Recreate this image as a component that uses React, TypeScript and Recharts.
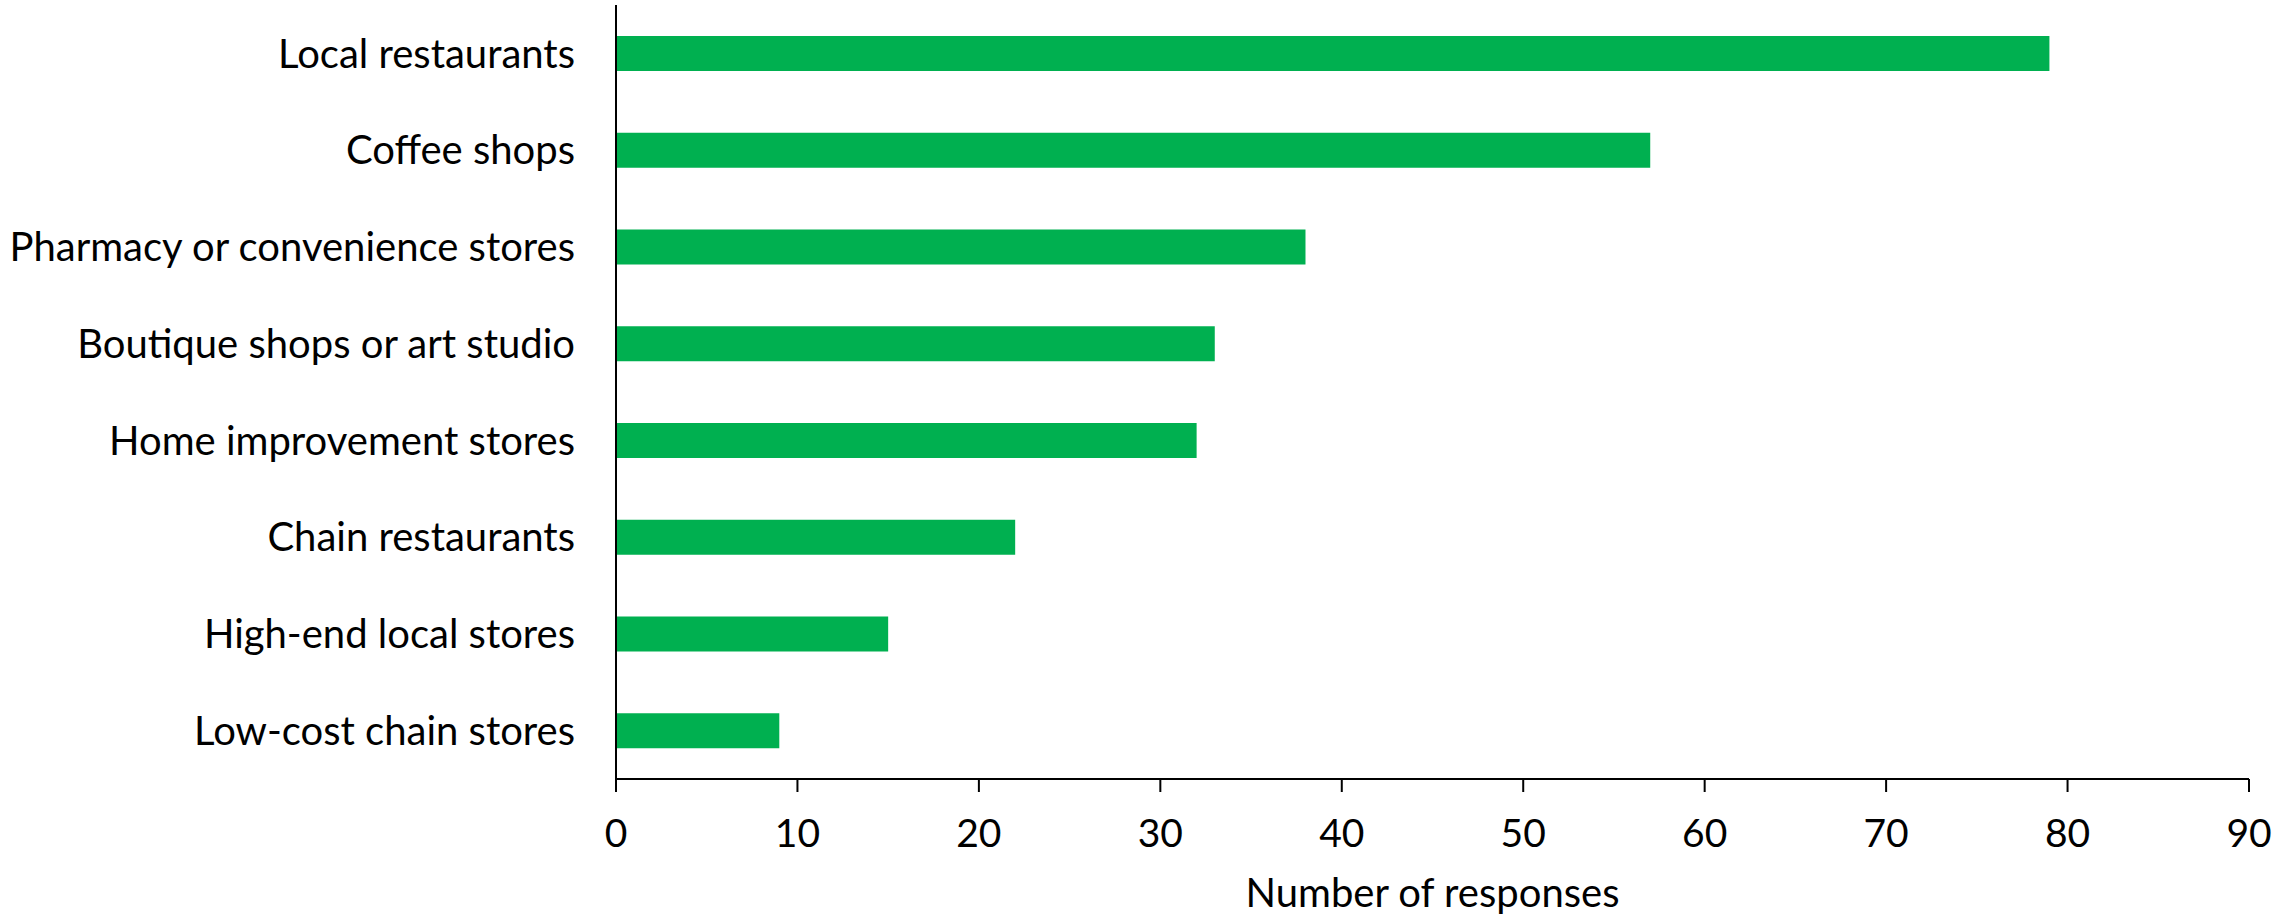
import { BarChart, Bar, XAxis, YAxis } from 'recharts';

const categories = [
  'Local restaurants',
  'Coffee shops',
  'Pharmacy or convenience stores',
  'Boutique shops or art studio',
  'Home improvement stores',
  'Chain restaurants',
  'High-end local stores',
  'Low-cost chain stores',
];
const responses = [79, 57, 38, 33, 32, 22, 15, 9];
const xTicks = [0, 10, 20, 30, 40, 50, 60, 70, 80, 90];

const data = categories.map((name, i) => ({ name, value: responses[i] }));

const FONT = 'Lato, "Noto Sans", sans-serif';

export default function App() {
  return (
    <div style={{ position: 'absolute', left: 0, top: 0, background: '#fff' }}>
      <BarChart
        width={2292}
        height={916}
        data={data}
        layout="vertical"
        margin={{ top: 5, right: 43, bottom: 0, left: 0 }}
        barCategoryGap={0}
      >
        <XAxis
          type="number"
          domain={[0, 90]}
          ticks={xTicks}
          interval={0}
          height={137}
          axisLine={{ stroke: '#000', strokeWidth: 2 }}
          tickLine={{ stroke: '#000', strokeWidth: 2 }}
          tickSize={13}
          tickMargin={27}
          tick={{ fontSize: 39, fill: '#000', fontFamily: FONT }}
          label={{
            value: 'Number of responses',
            position: 'insideBottom',
            offset: 9,
            style: { fontSize: 40, fill: '#000', fontFamily: FONT },
          }}
        />
        <YAxis
          type="category"
          dataKey="name"
          width={616}
          interval={0}
          axisLine={{ stroke: '#000', strokeWidth: 2 }}
          tickLine={false}
          tickSize={0}
          tickMargin={41}
          tick={{ fontSize: 40, fill: '#000', fontFamily: FONT }}
        />
        <Bar dataKey="value" fill="#00B050" barSize={35} isAnimationActive={false} />
      </BarChart>
    </div>
  );
}
